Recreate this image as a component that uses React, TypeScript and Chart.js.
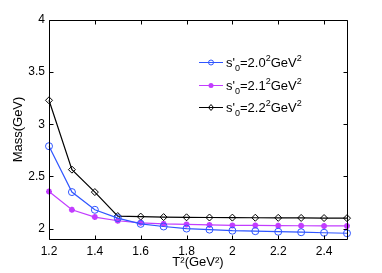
import React, { useEffect, useRef } from "react";
import { Chart, registerables } from "chart.js";

Chart.register(...registerables);

const tSquared = [1.2, 1.3, 1.4, 1.5, 1.6, 1.7, 1.8, 1.9, 2.0, 2.1, 2.2, 2.3, 2.4, 2.5];
const mass20 = [2.79, 2.35, 2.18, 2.1, 2.045, 2.02, 2.0, 1.99, 1.98, 1.975, 1.97, 1.965, 1.96, 1.955];
const mass21 = [2.355, 2.18, 2.11, 2.075, 2.055, 2.045, 2.04, 2.035, 2.03, 2.03, 2.028, 2.027, 2.025, 2.025];
const mass22 = [3.23, 2.565, 2.35, 2.12, 2.115, 2.11, 2.108, 2.106, 2.105, 2.104, 2.103, 2.102, 2.101, 2.1];
const xTickValues = [1.2, 1.4, 1.6, 1.8, 2.0, 2.2, 2.4];
const yTickValues = [2, 2.5, 3, 3.5, 4];
const legendBases = ["2.0", "2.1", "2.2"];

const BLUE = "#2f55ff";
const MAGENTA = "#c23cff";
const BLACK = "#000000";
const FONT = "Liberation Sans, Arial, sans-serif";

const fmt = (v: number) => String(Math.round(v * 10) / 10);

const matlabPlugin = {
  id: "matlabDecor",
  afterDraw(chart: any) {
    const { ctx, chartArea } = chart;
    const { left, right, top, bottom } = chartArea;
    const xs = chart.scales.x;
    const ys = chart.scales.y;
    ctx.save();
    ctx.strokeStyle = "#000";
    ctx.lineWidth = 1;
    const L = Math.round(left) + 0.5;
    const R = Math.round(right) + 0.5;
    const T = Math.round(top) + 0.5;
    const B = Math.round(bottom) + 0.5;
    ctx.beginPath();
    ctx.rect(L, T, R - L, B - T);
    ctx.stroke();
    const tl = 4;
    ctx.beginPath();
    xTickValues.forEach((v) => {
      const px = Math.round(xs.getPixelForValue(v)) + 0.5;
      ctx.moveTo(px, B);
      ctx.lineTo(px, B - tl);
      ctx.moveTo(px, T);
      ctx.lineTo(px, T + tl);
    });
    yTickValues.forEach((v) => {
      const py = Math.round(ys.getPixelForValue(v)) + 0.5;
      ctx.moveTo(L, py);
      ctx.lineTo(L + tl, py);
      ctx.moveTo(R, py);
      ctx.lineTo(R - tl, py);
    });
    ctx.stroke();

    // legend
    const colors = [BLUE, MAGENTA, BLACK];
    const styles = ["circle", "star", "rectRot"];
    const x0 = 199;
    const x1 = 223;
    const rows = [62, 85, 107];
    rows.forEach((ry, i) => {
      ctx.strokeStyle = colors[i];
      ctx.fillStyle = colors[i];
      ctx.lineWidth = 1;
      ctx.beginPath();
      ctx.moveTo(x0, ry + 0.5);
      ctx.lineTo(x1, ry + 0.5);
      ctx.stroke();
      const mx = (x0 + x1) / 2;
      ctx.beginPath();
      if (styles[i] === "circle") {
        ctx.arc(mx, ry + 0.5, 2.5, 0, Math.PI * 2);
        ctx.stroke();
      } else if (styles[i] === "star") {
        ctx.arc(mx, ry + 0.5, 2.5, 0, Math.PI * 2);
        ctx.fill();
      } else {
        ctx.moveTo(mx, ry - 2.5);
        ctx.lineTo(mx + 2.5, ry + 0.5);
        ctx.lineTo(mx, ry + 3.5);
        ctx.lineTo(mx - 2.5, ry + 0.5);
        ctx.closePath();
        ctx.stroke();
      }
      ctx.fillStyle = "#000";
      ctx.textBaseline = "alphabetic";
      ctx.textAlign = "left";
      let tx = x1 + 3;
      const base = ry + 5;
      const big = "13px " + FONT;
      const small = "9px " + FONT;
      const parts: [string, string, number][] = [
        ["s'", big, 0],
        ["0", small, 4],
        ["=" + legendBases[i], big, 0],
        ["2", small, -6],
        ["GeV", big, 0],
        ["2", small, -6],
      ];
      parts.forEach(([t, f, dy]) => {
        ctx.font = f;
        ctx.fillText(t, tx, base + dy);
        tx += ctx.measureText(t).width;
      });
    });
    ctx.restore();
  },
};

export default function App() {
  const ref = useRef<HTMLCanvasElement | null>(null);
  useEffect(() => {
    if (!ref.current) return;
    const mk = (label: string, data: number[], color: string, style: string, fill: boolean, r: number, bw: number) => ({
      label,
      data: tSquared.map((x, i) => ({ x, y: data[i] })),
      borderColor: color,
      backgroundColor: fill ? color : "rgba(0,0,0,0)",
      pointBorderColor: color,
      pointBackgroundColor: fill ? color : "rgba(0,0,0,0)",
      pointStyle: style,
      pointRadius: r,
      pointBorderWidth: bw,
      borderWidth: 1.2,
      tension: 0,
      clip: false as any,
    });
    const chart = new Chart(ref.current, {
      type: "line",
      data: {
        datasets: [
          mk("s'0=2.0^2GeV^2", mass20, BLUE, "circle", false, 3.5, 1),
          mk("s'0=2.1^2GeV^2", mass21, MAGENTA, "star", true, 3, 1.8),
          mk("s'0=2.2^2GeV^2", mass22, BLACK, "rectRot", false, 3.5, 1),
        ],
      },
      options: {
        animation: false,
        responsive: false,
        maintainAspectRatio: false,
        layout: { padding: { left: 0, top: 20, right: 35, bottom: 0 } },
        plugins: { legend: { display: false }, tooltip: { enabled: false } },
        scales: {
          x: {
            type: "linear",
            min: 1.2,
            max: 2.5,
            afterBuildTicks: (s: any) => {
              s.ticks = xTickValues.map((v) => ({ value: v }));
            },
            afterFit: (s: any) => {
              s.height = 34;
            },
            grid: { display: false, drawTicks: false },
            border: { display: false },
            ticks: {
              color: "#000",
              font: { family: FONT, size: 12 },
              padding: 5,
              maxRotation: 0,
              autoSkip: false,
              callback: (v: any) => fmt(Number(v)),
            },
            title: {
              display: true,
              text: "T²(GeV²)",
              color: "#000",
              font: { family: FONT, size: 13 },
              padding: { top: 0, bottom: 3 },
            },
          },
          y: {
            type: "linear",
            min: 1.9,
            max: 4,
            afterBuildTicks: (s: any) => {
              s.ticks = yTickValues.map((v) => ({ value: v }));
            },
            afterFit: (s: any) => {
              s.width = 49;
            },
            grid: { display: false, drawTicks: false },
            border: { display: false },
            ticks: {
              color: "#000",
              font: { family: FONT, size: 12 },
              padding: 4,
              autoSkip: false,
              callback: (v: any) => fmt(Number(v)),
            },
            title: {
              display: true,
              text: "Mass(GeV)",
              color: "#000",
              font: { family: FONT, size: 13 },
              padding: { top: 11, bottom: 0 },
            },
          },
        },
      },
      plugins: [matlabPlugin],
    });
    return () => chart.destroy();
  }, []);
  return (
    <div style={{ position: "fixed", left: 0, top: 0, width: 382, height: 273, background: "#fff" }}>
      <canvas ref={ref} width={382} height={273} style={{ width: 382, height: 273, display: "block" }} />
    </div>
  );
}
